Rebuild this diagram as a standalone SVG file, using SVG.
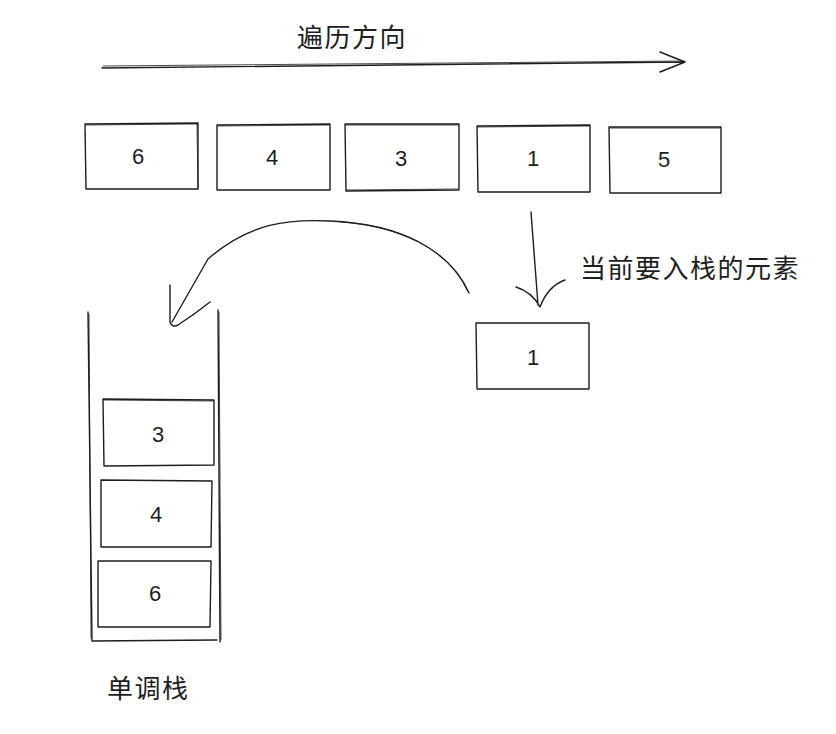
<svg xmlns="http://www.w3.org/2000/svg" width="836" height="734" viewBox="0 0 836 734">
<style>
.s{fill:none;stroke:#1e1e1e;stroke-width:1.4;stroke-linecap:round;stroke-linejoin:round}
.s2{fill:none;stroke:#1e1e1e;stroke-width:1;stroke-linecap:round;opacity:0.8}
.d{font-family:"Liberation Sans","DejaVu Sans",sans-serif;font-size:22px;fill:#1e1e1e;text-anchor:middle}
.c{font-family:"Noto Sans CJK SC",sans-serif;font-size:26px;letter-spacing:1.5px;fill:#1e1e1e}
</style>
<rect width="836" height="734" fill="#fff"/>
<text class="c" x="297" y="47">遍历方向</text>
<text class="c" x="580" y="278">当前要入栈的元素</text>
<text class="c" x="107" y="698">单调栈</text>
<g id="n6"><path class="s" d="M85 124 L198 123 L198 189 L86 189 Z"/><path class="s2" d="M86 125 L197 124 M197 124 L198 188"/><text class="d" x="138" y="164">6</text></g>
<g id="n4"><path class="s" d="M217 125 L330 124 L330 190 L217 190 Z"/><path class="s2" d="M218 126 L329 125"/><text class="d" x="272" y="165">4</text></g>
<g id="n3"><path class="s" d="M345 124 L459 124 L459 190 L346 191 Z"/><path class="s2" d="M346 125 L458 125 M346 190 L458 189"/><text class="d" x="401" y="166">3</text></g>
<g id="n1"><path class="s" d="M477 126 L590 125 L590 192 L478 192 Z"/><path class="s2" d="M478 127 L589 126"/><text class="d" x="533" y="166">1</text></g>
<g id="n5"><path class="s" d="M609 127 L721 127 L721 193 L610 193 Z"/><path class="s2" d="M610 128 L720 128"/><text class="d" x="664" y="167">5</text></g>
<g id="cur"><path class="s" d="M476 323 L589 323 L589 389 L477 389 Z"/><text class="d" x="533" y="365">1</text></g>
<g id="stack"><path class="s" d="M88 312 L92 641 M218 310 L220 642 M92 641 L217 640"/><path class="s2" d="M89 314 L91 638 M219 312 L221 640"/></g>
<g id="k3"><path class="s" d="M103 399 L214 400 L214 465 L104 466 Z"/><path class="s2" d="M104 400 L213 401"/><text class="d" x="158" y="442">3</text></g>
<g id="k4"><path class="s" d="M101 480 L212 481 L211 547 L101 547 Z"/><text class="d" x="156" y="522">4</text></g>
<g id="k6"><path class="s" d="M98 561 L211 561 L210 627 L98 627 Z"/><text class="d" x="155" y="601">6</text></g>
<g id="connectors">
<path class="s" d="M102 68 L685 62 M660 52 L685 62 L660 72"/>
<path class="s2" d="M103 66 L683 61"/>
<path class="s" d="M531 212 L538 305 M516 287 Q532 292 540 307 Q548 286 565 280"/>
<path class="s" d="M469 293 C450 250 400 224 330 221 C290 219 250 222 208 259 L172 322"/>
<path class="s2" d="M467 290 C448 249 400 225 340 222"/>
<path class="s" d="M170 285 L170 322 Q172 328 178 325 Q195 314 210 302"/>
</g>
</svg>
